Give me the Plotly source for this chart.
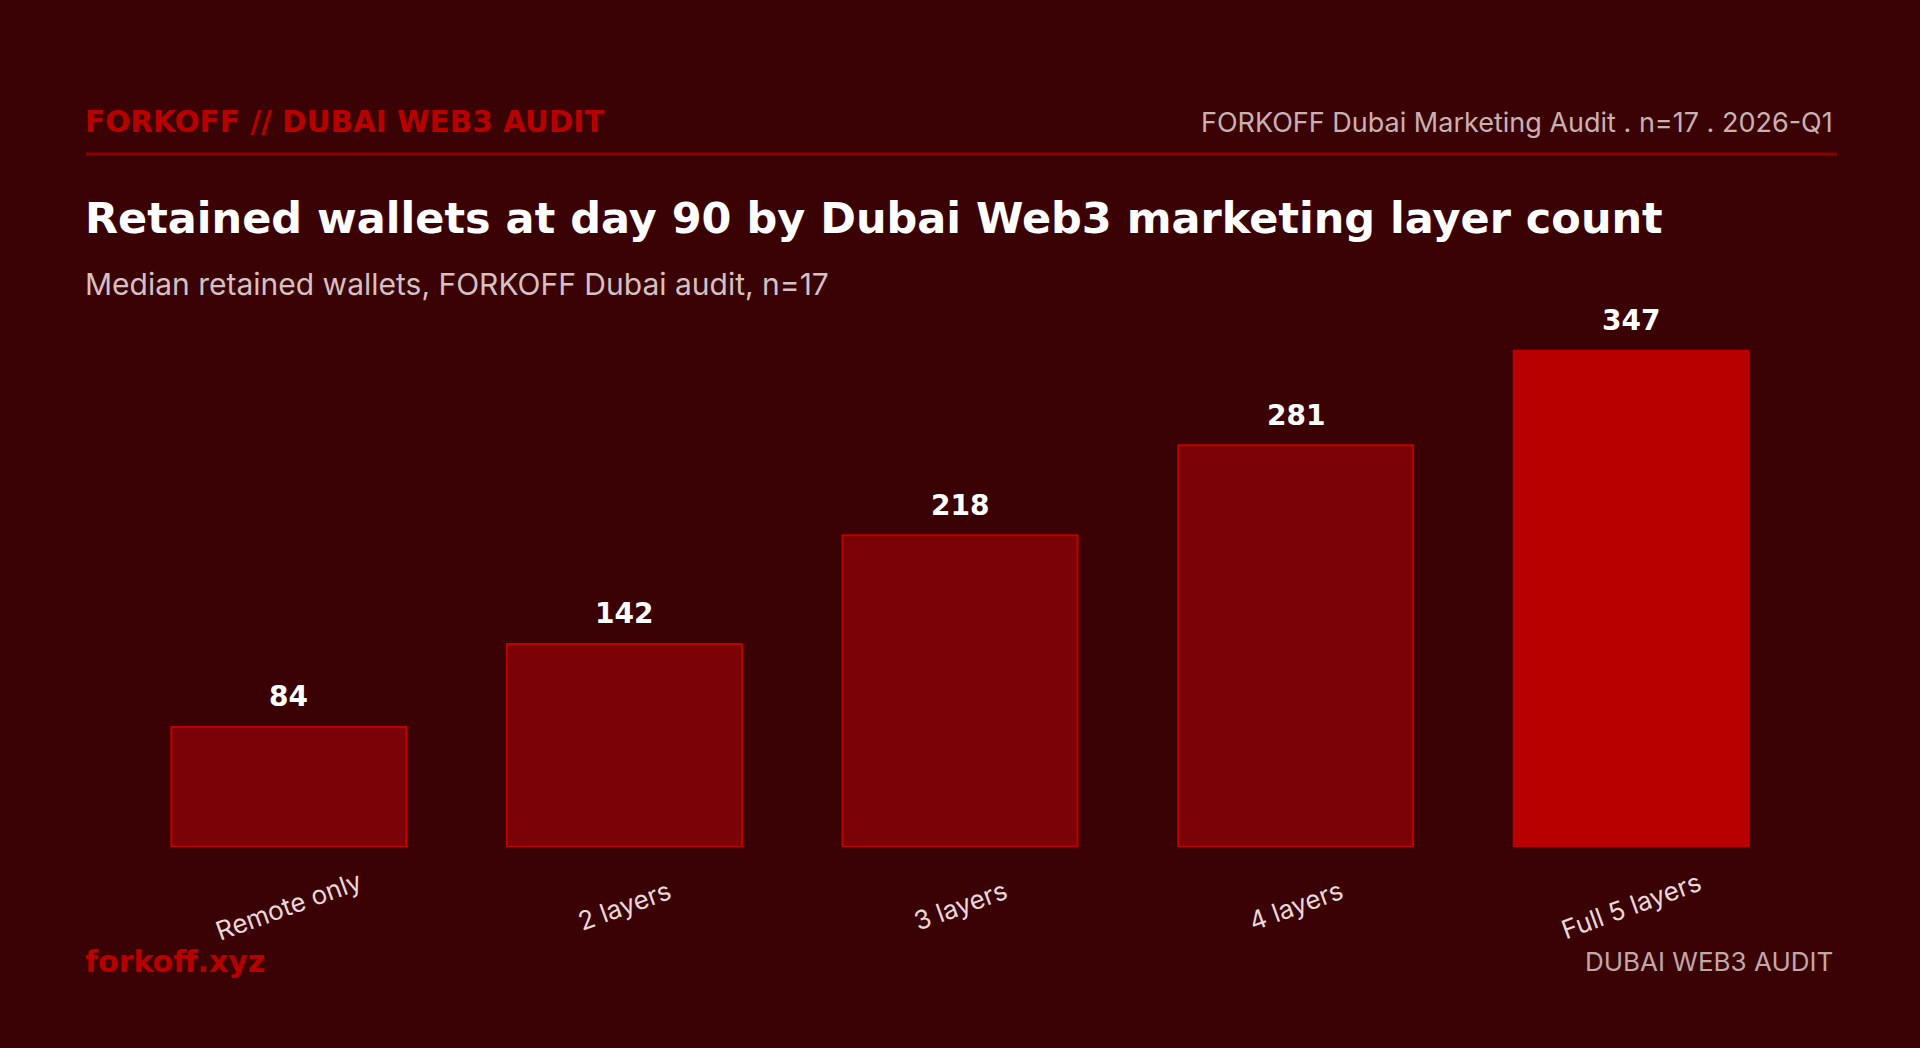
import plotly.graph_objects as go

categories = ["Remote only", "2 layers", "3 layers", "4 layers", "Full 5 layers"]
wallets = [84, 142, 218, 281, 347]

BG = "#3b0206"
RED = "#b80000"
BAR = "#7b0307"

bar_colors = [BAR, BAR, BAR, BAR, RED]

fig = go.Figure()
fig.add_trace(go.Bar(
    x=categories, y=wallets,
    marker=dict(color=bar_colors, line=dict(color="#be0000", width=2)),
    hoverinfo="skip",
))

# value labels above each bar
for cat, val in zip(categories, wallets):
    fig.add_annotation(x=cat, y=val, text=str(val), showarrow=False,
                       yanchor="middle", yshift=30,
                       font=dict(family="DejaVu Sans", size=28, color="#ffffff", weight=700))

# rotated category labels, centred under the bars
for cat in categories:
    fig.add_annotation(x=cat, y=0, text=cat, showarrow=False, textangle=-20,
                       yanchor="middle", yshift=-58,
                       font=dict(family="Inter", size=26, color="#ead8d8"))

# header, title, footer (pixel positions converted to paper coords)
texts = [
    (83, 122, "left", "FORKOFF // DUBAI WEB3 AUDIT", dict(family="DejaVu Sans", size=29.5, color=RED, weight=700)),
    (1835, 122, "right", "FORKOFF Dubai Marketing Audit . n=17 . 2026-Q1", dict(family="Inter", size=27, color="#c9b1b1")),
    (83, 218, "left", "Retained wallets at day 90 by Dubai Web3 marketing layer count", dict(family="DejaVu Sans", size=43, color="#ffffff", weight=700)),
    (83, 284, "left", "Median retained wallets, FORKOFF Dubai audit, n=17", dict(family="Inter", size=30, color="#d6c0c0")),
    (83, 961, "left", "forkoff.xyz", dict(family="DejaVu Sans", size=30, color=RED, weight=700)),
    (1835, 961, "right", "DUBAI WEB3 AUDIT", dict(family="Inter", size=26, color="#c0a8a8")),
]
for px_x, px_y, anchor, txt, font in texts:
    fig.add_annotation(xref="paper", yref="paper",
                       x=(px_x - 121) / (1799 - 121), y=(847 - px_y) / (847 - 275),
                       xanchor=anchor, yanchor="middle", text=txt, showarrow=False, font=font)

fig.add_shape(type="line", xref="paper", yref="paper",
              x0=(86 - 121) / (1799 - 121), x1=(1837 - 121) / (1799 - 121),
              y0=(847 - 154) / (847 - 275), y1=(847 - 154) / (847 - 275),
              line=dict(color="#8a0000", width=3))

fig.update_layout(
    width=1920, height=1048,
    margin=dict(l=121, r=121, t=275, b=201),
    paper_bgcolor=BG, plot_bgcolor=BG,
    bargap=0.3, showlegend=False,
    xaxis=dict(showticklabels=False, showgrid=False, zeroline=False, showline=False),
    yaxis=dict(range=[0, 400], visible=False),
)

fig.write_html("out.html", config={"displayModeBar": False},
               post_script="document.body.style.margin='0';")
